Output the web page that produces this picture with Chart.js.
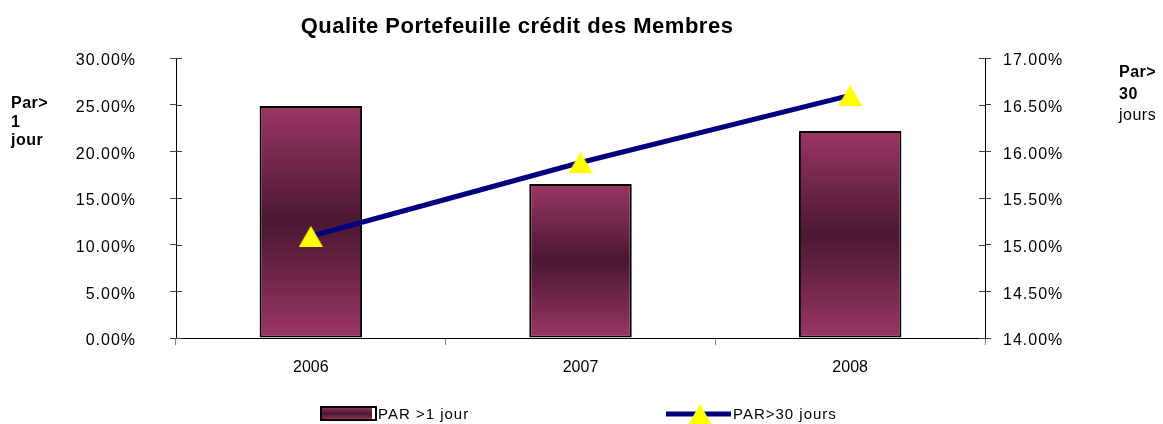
<!DOCTYPE html>
<html>
<head>
<meta charset="utf-8">
<script src="https://cdn.jsdelivr.net/npm/chart.js@4.4.1/dist/chart.umd.min.js"></script>
<style>
  body { margin: 0; background: #fff; }
  canvas { display: block; }
</style>
</head>
<body>
<canvas id="qualiteChart" width="1163" height="424"></canvas>
<script>
// Data
const annees = ['2006', '2007', '2008'];
const par1Jour = [24.86, 16.50, 22.18];   // % (left axis)
const par30Jours = [15.09, 15.88, 16.60]; // % (right axis)
const ticksGauche = [0, 5, 10, 15, 20, 25, 30];
const ticksDroite = [14, 14.5, 15, 15.5, 16, 16.5, 17];

const FONT = '"Liberation Sans", Arial, sans-serif';

// Triangle marker (centered in its box, like Excel)
function makeTriangle(w, h) {
    const c = document.createElement('canvas');
    c.width = w;
    c.height = h;
    const g = c.getContext('2d');
    g.fillStyle = '#ffff00';
    g.beginPath();
    g.moveTo(w / 2, 0);
    g.lineTo(w, h);
    g.lineTo(0, h);
    g.closePath();
    g.fill();
    return c;
}
const triangle = makeTriangle(24, 21);

function barGradient(ctx, top, bottom) {
    const grad = ctx.createLinearGradient(0, top, 0, bottom);
    grad.addColorStop(0, '#9b3565');
    grad.addColorStop(0.5, '#4a1830');
    grad.addColorStop(1, '#9b3565');
    return grad;
}

// Extra text: title, axis captions, legend, inner ticks
const decorPlugin = {
    id: 'decor',
    beforeUpdate(chart) {
        chart.ctx.letterSpacing = '1px';
    },
    beforeDraw(chart) {
        chart.ctx.letterSpacing = '1px';
    },
    afterDatasetsDraw(chart) {
        // x labels are drawn after this (z: 1), without extra spacing
        chart.ctx.letterSpacing = '0px';
    },
    afterDraw(chart) {
        const ctx = chart.ctx;
        ctx.save();
        ctx.fillStyle = '#000';

        // title
        ctx.letterSpacing = '0.5px';
        ctx.font = 'bold 22px ' + FONT;
        ctx.textAlign = 'center';
        ctx.textBaseline = 'alphabetic';
        ctx.fillText('Qualite Portefeuille crédit des Membres', 517, 33);

        // left caption
        ctx.letterSpacing = '0.5px';
        ctx.textAlign = 'left';
        ctx.font = 'bold 16px ' + FONT;
        ctx.fillText('Par>', 11, 108);
        ctx.fillText('1', 11, 127);
        ctx.fillText('jour', 11, 145);

        // right caption
        ctx.fillText('Par>', 1119, 77);
        ctx.fillText('30', 1119, 99);
        ctx.font = '16px ' + FONT;
        ctx.fillText('jours', 1119, 120);

        // inner half of the y ticks
        ctx.strokeStyle = '#404040';
        ctx.lineWidth = 1;
        const yL = chart.scales.y, yR = chart.scales.y1;
        ctx.beginPath();
        yL.ticks.forEach(t => {
            const py = Math.round(yL.getPixelForValue(t.value)) + 0.5;
            ctx.moveTo(yL.right, py);
            ctx.lineTo(yL.right + 6, py);
        });
        yR.ticks.forEach(t => {
            const py = Math.round(yR.getPixelForValue(t.value)) + 0.5;
            ctx.moveTo(yR.left - 6, py);
            ctx.lineTo(yR.left, py);
        });
        ctx.stroke();

        // legend
        ctx.letterSpacing = '1px';
        ctx.font = '15px ' + FONT;
        ctx.textBaseline = 'middle';
        ctx.fillStyle = barGradient(ctx, 407, 420);
        ctx.fillRect(321, 407, 55, 13);
        ctx.fillStyle = '#fff';
        ctx.fillRect(372, 408, 3, 11);
        ctx.strokeStyle = '#000';
        ctx.lineWidth = 2;
        ctx.strokeRect(321, 407, 55, 13);
        ctx.fillStyle = '#000';
        ctx.fillText('PAR >1 jour', 378, 415);

        ctx.strokeStyle = '#000080';
        ctx.lineWidth = 5;
        ctx.beginPath();
        ctx.moveTo(666, 414);
        ctx.lineTo(731, 414);
        ctx.stroke();
        ctx.drawImage(triangle, 700 - 12, 414 - 10);
        ctx.fillStyle = '#000';
        ctx.fillText('PAR>30 jours', 733, 415);
        ctx.restore();
    }
};

const ctx = document.getElementById('qualiteChart').getContext('2d');

const qualiteChart = new Chart(ctx, {
    type: 'bar',
    data: {
        labels: annees,
        datasets: [{
            type: 'line',
            label: 'PAR>30 jours',
            data: par30Jours,
            yAxisID: 'y1',
            borderColor: '#000080',
            borderWidth: 5,
            tension: 0,
            fill: false,
            pointStyle: triangle,
            pointRadius: 12,
            order: 0
        }, {
            type: 'bar',
            label: 'PAR >1 jour',
            data: par1Jour,
            yAxisID: 'y',
            backgroundColor: function(context) {
                const chart = context.chart;
                if (!chart.chartArea) return '#7a2a50';
                const y = chart.scales.y;
                return barGradient(chart.ctx, y.getPixelForValue(context.raw), y.getPixelForValue(0));
            },
            borderColor: '#000',
            borderWidth: 2,
            borderSkipped: false,
            categoryPercentage: 1,
            barPercentage: 0.38,
            order: 1
        }]
    },
    options: {
        responsive: false,
        animation: false,
        layout: {
            padding: { top: 58, bottom: 44, left: 0, right: 0 }
        },
        plugins: {
            legend: { display: false },
            title: { display: false },
            tooltip: { enabled: false }
        },
        scales: {
            x: {
                offset: true,
                grid: {
                    display: true,
                    offset: true,
                    drawOnChartArea: false,
                    tickLength: 7,
                    color: '#808080'
                },
                border: { color: '#000', width: 1 },
                ticks: {
                    z: 1,
                    color: '#000',
                    font: { family: FONT, size: 16 },
                    padding: 13
                },
                afterFit: s => { s.height = 42; }
            },
            y: {
                position: 'left',
                min: 0,
                max: 30,
                afterBuildTicks: s => { s.ticks = ticksGauche.map(v => ({ value: v })); },
                grid: {
                    drawOnChartArea: false,
                    tickLength: 6,
                    color: '#404040'
                },
                border: { color: '#000', width: 1 },
                ticks: {
                    color: '#000',
                    font: { family: FONT, size: 16 },
                    padding: 34,
                    labelOffset: 3,
                    callback: v => v.toFixed(2) + '%'
                },
                afterFit: s => { s.width = 176; }
            },
            y1: {
                position: 'right',
                min: 14,
                max: 17,
                afterBuildTicks: s => { s.ticks = ticksDroite.map(v => ({ value: v })); },
                grid: {
                    drawOnChartArea: false,
                    tickLength: 6,
                    color: '#404040'
                },
                border: { color: '#000', width: 1 },
                ticks: {
                    color: '#000',
                    font: { family: FONT, size: 16 },
                    padding: 12,
                    labelOffset: 3,
                    callback: v => v.toFixed(2) + '%'
                },
                afterFit: s => { s.width = 178; }
            }
        }
    },
    plugins: [decorPlugin]
});
</script>
</body>
</html>
